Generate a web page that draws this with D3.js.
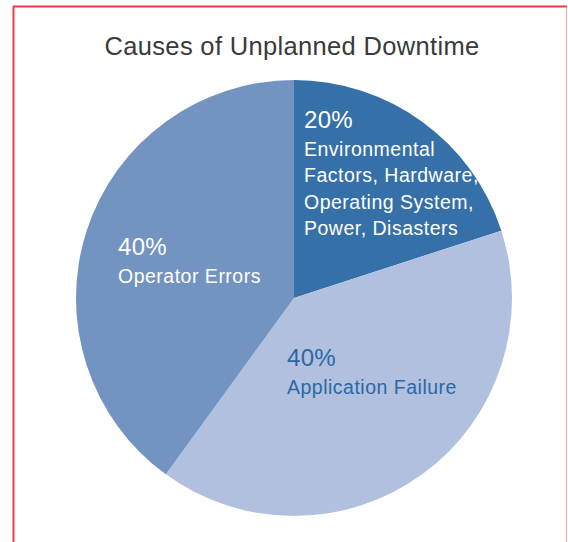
<!DOCTYPE html>
<html>
<head>
<meta charset="utf-8">
<script src="https://cdn.jsdelivr.net/npm/d3@7"></script>
<style>
  html, body { margin: 0; padding: 0; background: #fff; }
  svg { display: block; }
  text { font-family: "Liberation Sans", Arial, sans-serif; }
</style>
</head>
<body>
<svg id="chart" width="568" height="542"></svg>
<script>
const title = "Causes of Unplanned Downtime";
const categories = [
  "Environmental Factors, Hardware, Operating System, Power, Disasters",
  "Application Failure",
  "Operator Errors"
];
const values = [20, 40, 40];
const percentLabels = ["20%", "40%", "40%"];
// label text broken into lines as printed in the picture
const labelLines = [
  ["Environmental", "Factors, Hardware,", "Operating System,", "Power, Disasters"],
  ["Application Failure"],
  ["Operator Errors"]
];
const sliceColors = ["#3670a8", "#b0c0de", "#7394c1"];
const textColors = ["#ffffff", "#2c68a3", "#ffffff"];

const width = 568, height = 542;
const cx = 294, cy = 298, radius = 218;

const svg = d3.select("#chart");

// red frame around the figure
svg.append("line").attr("x1", 13.5).attr("y1", 6).attr("x2", 13.5).attr("y2", height)
  .attr("stroke", "#ee3b43").attr("stroke-width", 2);
svg.append("line").attr("x1", 13).attr("y1", 6.5).attr("x2", 567).attr("y2", 6.5)
  .attr("stroke", "#ee3b43").attr("stroke-width", 2);
svg.append("line").attr("x1", 566.5).attr("y1", 7).attr("x2", 566.5).attr("y2", height)
  .attr("stroke", "#f2a5ac").attr("stroke-width", 1);

svg.append("text")
  .attr("x", 292)
  .attr("y", 55)
  .attr("text-anchor", "middle")
  .attr("font-size", 25.5)
  .attr("letter-spacing", 0.33)
  .attr("fill", "#3a3a3a")
  .text(title);

const pie = d3.pie().sort(null).value(d => d)(values);
const arc = d3.arc().innerRadius(0).outerRadius(radius);

const g = svg.append("g").attr("transform", `translate(${cx},${cy})`);

g.selectAll("path.slice")
  .data(pie)
  .join("path")
  .attr("class", "slice")
  .attr("d", arc)
  .attr("fill", (d, i) => sliceColors[i]);

// where each label block starts, relative to the pie centre
const labelOffsets = [[10, -170], [-7, 68], [-176, -43]];

pie.forEach((d, i) => {
  const [dx, dy] = labelOffsets[i];
  const t = g.append("text")
    .attr("fill", textColors[i]);
  t.append("tspan")
    .attr("x", dx).attr("y", dy)
    .attr("font-size", 24)
    .attr("letter-spacing", 0.3)
    .text(percentLabels[i]);
  labelLines[i].forEach((line, j) => {
    t.append("tspan")
      .attr("x", dx)
      .attr("y", dy + 28 + j * 26.3)
      .attr("font-size", 19.5)
      .attr("letter-spacing", 0.5)
      .text(line);
  });
});
</script>
</body>
</html>
